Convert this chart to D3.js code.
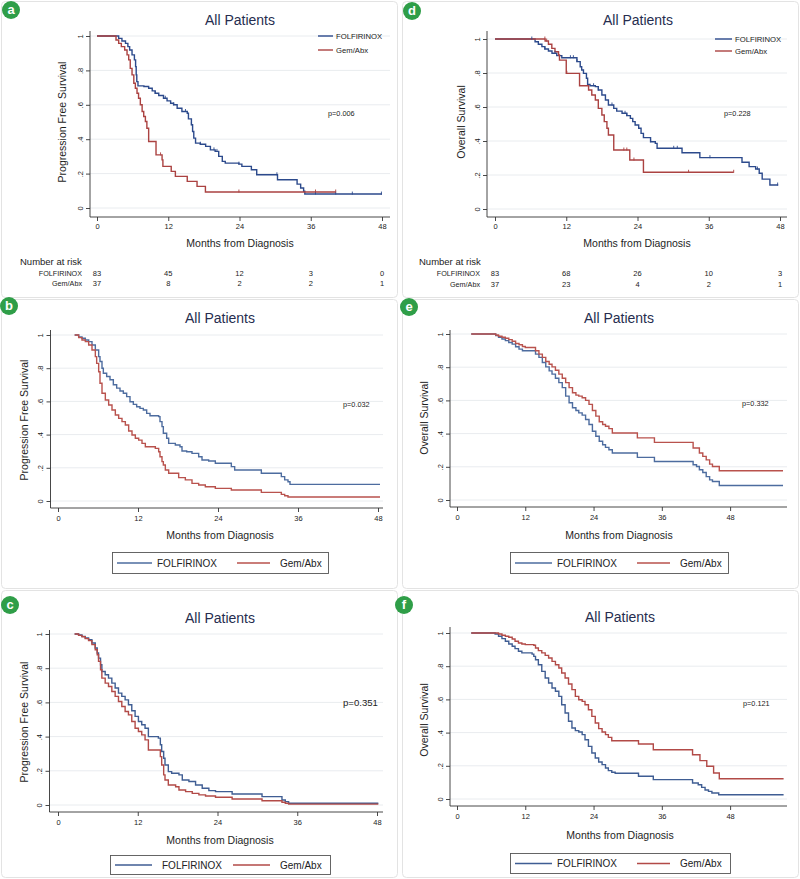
<!DOCTYPE html>
<html><head><meta charset="utf-8">
<script src="https://cdn.jsdelivr.net/npm/d3@7"></script>
<style>body{margin:0;background:#fff}svg text{font-family:"Liberation Sans",Arial,sans-serif}</style>
</head><body>
<svg id="c" width="800" height="879"></svg>
<script>
// ---------- DATA ----------
const seriesNames = ["FOLFIRINOX", "Gem/Abx"];
const xTicks = [0, 12, 24, 36, 48];
const yTicks = [0, 0.2, 0.4, 0.6, 0.8, 1];
const yTickLabels = ["0", ".2", ".4", ".6", ".8", "1"];
const riskTimes = [0, 12, 24, 36, 48];

// panel a: PFS (Kaplan-Meier step points [month, survival])
const aFolf = [[0,1],[3.0,1],[3.65,0.986],[4.2,0.971],[4.8,0.957],[5.2,0.938],[5.5,0.919],[5.9,0.89],[6.3,0.861],[6.5,0.822],[6.6,0.774],[6.7,0.735],[6.9,0.71],[7.9,0.706],[8.7,0.696],[9.3,0.681],[9.8,0.667],[10.4,0.654],[11.2,0.638],[11.8,0.623],[12.4,0.609],[12.9,0.6],[13.5,0.58],[14.3,0.561],[15.2,0.551],[15.4,0.518],[15.9,0.484],[16.1,0.445],[16.3,0.406],[16.6,0.377],[17.4,0.371],[18.3,0.358],[19.1,0.338],[19.9,0.329],[20.5,0.3],[21.1,0.271],[21.6,0.261],[23.9,0.255],[24.4,0.242],[26.0,0.222],[26.9,0.193],[30.4,0.164],[33.7,0.139],[34.3,0.116],[34.8,0.097],[35.0,0.081],[48,0.081]];
const aGem = [[0,1],[3.0,1],[3.2,0.977],[3.65,0.957],[4.1,0.938],[4.66,0.919],[5.06,0.89],[5.34,0.861],[5.6,0.812],[5.9,0.774],[6.2,0.725],[6.46,0.696],[6.74,0.667],[7.0,0.638],[7.3,0.6],[7.6,0.561],[7.87,0.532],[8.15,0.503],[8.4,0.464],[8.7,0.387],[9.94,0.309],[10.96,0.28],[11.1,0.242],[12.5,0.213],[13.2,0.184],[15.2,0.155],[16.85,0.126],[18.26,0.093],[40.2,0.093]];
const aFolfCens = [9.8,11.5,12.9,14.9,15.9,17.4,19.7,20.2,23.9,30.3,36.8,40.2,43,47.9];
const aGemCens = [10.7,23.9,36.8,40.2];
const aRiskFolf = [83, 45, 12, 3, 0];
const aRiskGem = [37, 8, 2, 2, 1];

// panel d: OS
const dFolf = [[0,1],[6.47,1],[6.75,0.984],[7.3,0.969],[7.9,0.955],[8.4,0.941],[9.0,0.929],[9.6,0.916],[10.4,0.902],[11.25,0.89],[13.8,0.867],[14.35,0.837],[14.6,0.818],[14.9,0.798],[15.4,0.769],[15.6,0.733],[16.0,0.725],[16.9,0.72],[17.4,0.7],[18.0,0.671],[18.6,0.641],[19.1,0.612],[20.0,0.592],[20.5,0.576],[21.4,0.563],[22.2,0.549],[22.8,0.533],[23.2,0.514],[23.6,0.494],[24.2,0.475],[24.6,0.445],[25.0,0.42],[26.2,0.396],[27.0,0.386],[27.3,0.357],[31.5,0.331],[34.5,0.302],[41.6,0.275],[42.8,0.249],[43.9,0.235],[44.5,0.21],[45.0,0.176],[46.3,0.141],[47.7,0.141]];
const dGem = [[0,1],[8.16,1],[8.44,0.988],[9.0,0.969],[9.57,0.945],[10.1,0.925],[10.7,0.906],[10.86,0.876],[12.0,0.798],[14.24,0.725],[15.76,0.7],[16.3,0.671],[16.9,0.641],[17.4,0.592],[18.0,0.553],[18.4,0.514],[18.85,0.475],[19.1,0.435],[20.0,0.347],[22.7,0.288],[25.0,0.216],[40.2,0.216]];
const dFolfCens = [6.2,8.4,10.1,12.7,13.2,13.8,16.6,17.4,19.7,21.9,22.2,26.2,30.1,30.7,36.2,44.2,47.6];
const dGemCens = [8.4,8.7,12.1,21.7,22.2,23.4,32.6,40.2];
const dRiskFolf = [83, 68, 26, 10, 3];
const dRiskGem = [37, 23, 4, 2, 1];

// panel b: PFS
const bFolf = [[2.5,1],[3.1,0.988],[3.6,0.98],[4.1,0.97],[4.6,0.96],[5.1,0.94],[5.6,0.91],[6.1,0.87],[6.3,0.84],[6.6,0.8],[6.8,0.77],[7.3,0.75],[7.8,0.73],[8.3,0.7],[8.8,0.68],[9.3,0.663],[9.8,0.649],[10.3,0.629],[10.8,0.598],[11.3,0.582],[11.8,0.568],[12.3,0.558],[12.8,0.548],[13.3,0.528],[13.8,0.514],[15.1,0.508],[15.3,0.478],[15.6,0.448],[15.8,0.408],[16.3,0.378],[16.6,0.347],[17.6,0.337],[18.3,0.327],[18.6,0.301],[19.3,0.297],[20.1,0.287],[21.1,0.267],[21.6,0.247],[22.6,0.241],[23.6,0.227],[26.0,0.207],[26.5,0.187],[30.5,0.167],[33.5,0.147],[34.0,0.127],[34.5,0.116],[34.8,0.1],[48.3,0.1]];
const bGem = [[2.5,1],[3.1,0.984],[3.6,0.97],[4.1,0.96],[4.6,0.94],[5.1,0.91],[5.6,0.87],[5.8,0.829],[6.1,0.779],[6.3,0.709],[6.6,0.649],[7.1,0.608],[7.6,0.578],[8.1,0.548],[8.6,0.518],[9.1,0.498],[9.6,0.478],[10.1,0.458],[10.6,0.422],[11.1,0.398],[11.6,0.378],[12.1,0.367],[12.6,0.347],[13.1,0.327],[14.6,0.317],[15.1,0.297],[15.3,0.267],[15.6,0.237],[15.8,0.217],[16.1,0.187],[16.6,0.167],[18.1,0.141],[19.1,0.127],[20.1,0.106],[21.1,0.096],[22.1,0.086],[23.6,0.076],[26.0,0.066],[30.5,0.052],[33.5,0.04],[34.0,0.032],[34.5,0.024],[48.3,0.024]];

// panel e: OS
const eFolf = [[2.5,1],[6.2,1],[6.8,0.99],[7.3,0.98],[7.9,0.97],[8.5,0.96],[9.1,0.949],[9.7,0.939],[10.3,0.923],[10.9,0.909],[11.5,0.899],[13.8,0.879],[14.4,0.859],[15.0,0.828],[15.6,0.802],[16.2,0.778],[16.7,0.758],[17.3,0.733],[17.9,0.707],[18.5,0.677],[19.1,0.626],[19.7,0.586],[20.3,0.556],[20.9,0.539],[21.4,0.525],[22.0,0.511],[22.6,0.485],[23.2,0.455],[23.8,0.414],[24.4,0.384],[25.0,0.354],[25.6,0.333],[26.1,0.317],[26.7,0.303],[27.3,0.283],[31.7,0.257],[34.7,0.232],[41.5,0.212],[42.1,0.202],[42.6,0.182],[43.2,0.166],[43.8,0.141],[44.4,0.121],[44.9,0.111],[46.1,0.087],[57.3,0.087]];
const eGem = [[2.5,1],[6.2,1],[6.8,0.994],[7.3,0.986],[7.9,0.98],[8.5,0.974],[9.1,0.966],[9.7,0.956],[10.3,0.943],[10.9,0.935],[11.5,0.925],[12.0,0.919],[13.8,0.899],[14.4,0.879],[15.0,0.859],[15.6,0.834],[16.2,0.818],[16.7,0.802],[17.3,0.782],[17.9,0.758],[18.5,0.733],[19.1,0.707],[19.7,0.677],[20.3,0.646],[20.9,0.632],[21.4,0.626],[22.0,0.616],[22.6,0.6],[23.2,0.576],[23.8,0.539],[24.4,0.505],[25.0,0.471],[25.6,0.455],[26.1,0.444],[26.7,0.43],[27.3,0.404],[31.7,0.374],[34.7,0.347],[41.5,0.313],[42.6,0.283],[43.2,0.263],[43.8,0.242],[44.4,0.216],[44.9,0.202],[46.1,0.176],[57.3,0.176]];

// panel c: PFS
const cFolf = [[2.5,1],[3.1,0.994],[3.6,0.986],[4.1,0.977],[4.6,0.967],[5.1,0.947],[5.6,0.918],[5.9,0.889],[6.1,0.859],[6.4,0.82],[6.6,0.781],[7.1,0.762],[7.6,0.742],[8.1,0.713],[8.6,0.684],[9.1,0.654],[9.6,0.635],[10.1,0.615],[10.6,0.586],[11.1,0.551],[11.6,0.518],[12.1,0.488],[12.6,0.469],[13.1,0.449],[13.6,0.4],[15.1,0.391],[15.4,0.352],[15.6,0.313],[15.9,0.273],[16.1,0.234],[16.6,0.195],[17.1,0.186],[18.2,0.176],[18.7,0.146],[19.7,0.137],[20.7,0.117],[21.7,0.098],[22.7,0.084],[23.7,0.078],[26.2,0.064],[30.7,0.049],[33.7,0.029],[34.2,0.02],[34.7,0.01],[48.2,0.01]];
const cGem = [[2.5,1],[3.1,0.992],[3.6,0.984],[4.1,0.973],[4.6,0.961],[5.1,0.938],[5.6,0.908],[5.9,0.879],[6.1,0.84],[6.4,0.791],[6.6,0.742],[7.1,0.713],[7.6,0.693],[8.1,0.664],[8.6,0.635],[9.1,0.605],[9.6,0.576],[10.1,0.547],[10.6,0.527],[11.1,0.488],[11.6,0.449],[12.1,0.43],[12.6,0.41],[13.1,0.381],[13.6,0.322],[15.4,0.283],[15.6,0.234],[15.9,0.176],[16.1,0.146],[16.6,0.117],[17.7,0.107],[18.2,0.088],[19.2,0.078],[20.2,0.068],[21.2,0.059],[22.2,0.053],[23.7,0.045],[26.2,0.035],[30.7,0.025],[33.7,0.016],[34.2,0.01],[34.7,0.005],[48.2,0.005]];

// panel f: OS
const fFolf = [[2.5,1],[6.1,1],[6.7,0.994],[7.3,0.98],[7.9,0.966],[8.5,0.95],[9.1,0.934],[9.7,0.92],[10.2,0.906],[10.8,0.89],[11.4,0.88],[13.2,0.873],[13.5,0.859],[13.8,0.839],[14.3,0.809],[14.9,0.769],[15.5,0.729],[16.1,0.699],[16.7,0.669],[17.3,0.649],[17.9,0.618],[18.4,0.568],[19.0,0.518],[19.6,0.468],[20.2,0.428],[20.8,0.412],[21.4,0.404],[22.0,0.388],[22.5,0.357],[23.1,0.317],[23.7,0.277],[24.3,0.247],[24.9,0.223],[25.5,0.207],[26.1,0.187],[26.6,0.171],[27.2,0.161],[27.8,0.155],[31.9,0.137],[34.5,0.117],[41.4,0.096],[42.4,0.086],[43.0,0.07],[43.6,0.054],[44.2,0.046],[44.8,0.036],[46.0,0.026],[57.4,0.026]];
const fGem = [[2.5,1],[6.7,1],[7.3,0.994],[7.9,0.986],[8.5,0.98],[9.1,0.974],[9.7,0.964],[10.2,0.95],[10.8,0.94],[11.4,0.934],[12.0,0.93],[13.5,0.926],[13.8,0.91],[14.3,0.894],[14.9,0.88],[15.5,0.865],[16.1,0.849],[16.7,0.829],[17.3,0.809],[17.9,0.789],[18.4,0.759],[19.0,0.729],[19.6,0.693],[20.2,0.659],[20.8,0.618],[21.4,0.598],[22.0,0.588],[22.5,0.568],[23.1,0.538],[23.7,0.498],[24.3,0.458],[24.9,0.424],[25.5,0.404],[26.1,0.388],[26.6,0.371],[27.2,0.351],[31.9,0.331],[34.5,0.297],[41.4,0.267],[42.7,0.231],[43.9,0.197],[45.1,0.157],[46.1,0.122],[57.4,0.122]];

// ---------- LAYOUT ----------
const panels = [
  {id:"a", frame:[1,1,396,296], badge:[11,10], titleXY:[240,25], dom:[0,48], xr:[97,382], yr:[208,36], axX:90, axY:217, right:390, top:31,
   xTitleXY:[240,247], yTitle:"Progression Free Survival", yTitleXY:[62,122], yLabOff:10, xLabY:229,
   pv:{x:328,y:116,text:"p=0.006",size:7.3}, data:[aFolf,aGem], cens:[aFolfCens,aGemCens], colors:["#2c4a8c","#ab4241"],
   legend:{type:"inline", x1:318, x2:333, ys:[36,50], tx:336},
   risk:{titleX:20, titleY:265, labX:82, ys:[276,286], vals:[aRiskFolf,aRiskGem]}},
  {id:"d", frame:[402,1,396,296], badge:[412,11], titleXY:[638,25], dom:[0,48], xr:[495,780], yr:[209,39], axX:487, axY:217, right:787, top:31,
   xTitleXY:[637,247], yTitle:"Overall Survival", yTitleXY:[461,122], yLabOff:10, xLabY:229,
   pv:{x:724,y:116,text:"p=0.228",size:7.3}, data:[dFolf,dGem], cens:[dFolfCens,dGemCens], colors:["#2c4a8c","#ab4241"],
   legend:{type:"inline", x1:715, x2:732, ys:[39,51], tx:735},
   risk:{titleX:419, titleY:265, labX:480, ys:[276,287], vals:[dRiskFolf,dRiskGem]}},
  {id:"b", frame:[1,299,396,289], badge:[9,306], titleXY:[220,323], dom:[0,48], xr:[58,378], yr:[501,335], axX:50.5, axY:508, right:383, top:330,
   xTitleXY:[220,539], yTitle:"Progression Free Survival", yTitleXY:[24,420], yLabOff:10, xLabY:521,
   pv:{x:343,y:407,text:"p=0.032",size:7.3}, data:[bFolf,bGem], colors:["#4d6c9f","#b9524d"],
   legend:{type:"box", box:[112,552,216,21], lines:[[117,152],[237,270]], tx:[157,280]}},
  {id:"e", frame:[402,299,396,289], badge:[409,307], titleXY:[619,323], dom:[0,58], xr:[457,787], yr:[500,334], axX:450, axY:507, right:787, top:330,
   xTitleXY:[619,539], yTitle:"Overall Survival", yTitleXY:[424,418], yLabOff:10, xLabY:520,
   pv:{x:742,y:406,text:"p=0.332",size:7.3}, data:[eFolf,eGem], colors:["#4d6c9f","#b9524d"],
   legend:{type:"box", box:[510,552,218,21], lines:[[515,552],[637,670]], tx:[557,680]}},
  {id:"c", frame:[1,590,396,287], badge:[10,605], titleXY:[220,623], dom:[0,48], xr:[58,377], yr:[805,634], axX:49.5, axY:812, right:383, top:630,
   xTitleXY:[220,844], yTitle:"Progression Free Survival", yTitleXY:[24,722], yLabOff:10, xLabY:825,
   pv:{x:343,y:706,text:"p=0.351",size:9.6}, data:[cFolf,cGem], colors:["#3f5d93","#b24a47"],
   legend:{type:"box", box:[110,855,220,19], lines:[[115,152],[233,270]], tx:[162,280]}},
  {id:"f", frame:[402,590,396,287], badge:[404,605], titleXY:[620,622], dom:[0,58], xr:[457,787], yr:[799,633], axX:450, axY:806, right:787, top:627,
   xTitleXY:[620,839], yTitle:"Overall Survival", yTitleXY:[424,720], yLabOff:10, xLabY:819,
   pv:{x:743,y:706,text:"p=0.121",size:7.3}, data:[fFolf,fGem], colors:["#3f5d93","#b24a47"],
   legend:{type:"box", box:[510,853,220,20], lines:[[515,552],[637,670]], tx:[557,680]}}
];

const svg = d3.select("#c");
const axisColor = "#333";

function survAt(series, t){
  let s = series[0][1];
  for (const p of series){ if (p[0] <= t) s = p[1]; else break; }
  return s;
}

panels.forEach(P => {
  const g = svg.append("g");
  // frame
  g.append("rect").attr("x",P.frame[0]+0.5).attr("y",P.frame[1]+0.5).attr("width",P.frame[2]).attr("height",P.frame[3])
    .attr("rx",4).attr("fill","none").attr("stroke","#e3e3e3").attr("stroke-width",1);

  const x = d3.scaleLinear().domain(P.dom).range(P.xr);
  const y = d3.scaleLinear().domain([0,1]).range(P.yr);

  // gridlines
  g.selectAll(".grid").data(yTicks).join("line")
    .attr("x1",P.axX).attr("x2",P.right).attr("y1",d=>y(d)).attr("y2",d=>y(d))
    .attr("stroke","#e9ecef").attr("stroke-width",1);

  // axis lines
  g.append("line").attr("x1",P.axX).attr("x2",P.axX).attr("y1",P.top).attr("y2",P.axY).attr("stroke",axisColor).attr("stroke-width",0.9);
  g.append("line").attr("x1",P.axX).attr("x2",P.right).attr("y1",P.axY).attr("y2",P.axY).attr("stroke",axisColor).attr("stroke-width",0.9);

  // y axis
  const ya = g.append("g").attr("transform",`translate(${P.axX},0)`)
    .call(d3.axisLeft(y).tickValues(yTicks).tickSize(4).tickFormat((d,i)=>yTickLabels[i]));
  ya.select(".domain").remove();
  ya.selectAll(".tick line").attr("stroke",axisColor).attr("stroke-width",0.9);
  ya.selectAll(".tick text").attr("x",0).attr("dy","0.35em").attr("text-anchor","middle")
    .attr("transform",`translate(${-P.yLabOff},0) rotate(-90)`)
    .attr("font-size",7.5).attr("fill","#222").attr("font-family","Liberation Sans, Arial, sans-serif");

  // x axis
  const xa = g.append("g").attr("transform",`translate(0,${P.axY})`)
    .call(d3.axisBottom(x).tickValues(xTicks).tickSize(4).tickFormat(d3.format("d")));
  xa.select(".domain").remove();
  xa.selectAll(".tick line").attr("stroke",axisColor).attr("stroke-width",0.9);
  xa.selectAll(".tick text").attr("y",P.xLabY-P.axY).attr("dy",0).attr("font-size",7.5).attr("fill","#222")
    .attr("font-family","Liberation Sans, Arial, sans-serif");

  // curves
  const line = d3.line().x(d=>x(d[0])).y(d=>y(d[1])).curve(d3.curveStepAfter);
  P.data.forEach((s,i) => {
    g.append("path").datum(s).attr("d",line).attr("fill","none").attr("stroke",P.colors[i]).attr("stroke-width",1.4);
  });
  if (P.cens){
    P.cens.forEach((cs,i) => {
      g.selectAll(null).data(cs).join("line")
        .attr("x1",d=>x(d)).attr("x2",d=>x(d))
        .attr("y1",d=>y(survAt(P.data[i],d))-2.5).attr("y2",d=>y(survAt(P.data[i],d))+0.5)
        .attr("stroke",P.colors[i]).attr("stroke-width",0.9);
    });
  }

  // titles
  g.append("text").attr("x",P.titleXY[0]).attr("y",P.titleXY[1]).attr("text-anchor","middle")
    .attr("font-size",14).attr("fill","#262d4f").text("All Patients");
  g.append("text").attr("x",P.xTitleXY[0]).attr("y",P.xTitleXY[1]).attr("text-anchor","middle")
    .attr("font-size",10.5).attr("fill","#1e1e1e").text("Months from Diagnosis");
  g.append("text").attr("transform",`translate(${P.yTitleXY[0]},${P.yTitleXY[1]}) rotate(-90)`)
    .attr("text-anchor","middle").attr("dy","0.35em").attr("font-size",10.5).attr("fill","#1e1e1e").text(P.yTitle);

  // p-value
  g.append("text").attr("x",P.pv.x).attr("y",P.pv.y).attr("font-size",P.pv.size).attr("fill","#222").text(P.pv.text);

  // legend
  if (P.legend.type === "inline"){
    P.legend.ys.forEach((yy,i) => {
      g.append("line").attr("x1",P.legend.x1).attr("x2",P.legend.x2).attr("y1",yy).attr("y2",yy)
        .attr("stroke",P.colors[i]).attr("stroke-width",1.4);
      g.append("text").attr("x",P.legend.tx).attr("y",yy).attr("dy","0.35em").attr("font-size",7.7)
        .attr("fill","#222").text(seriesNames[i]);
    });
  } else {
    const b = P.legend.box;
    g.append("rect").attr("x",b[0]+0.5).attr("y",b[1]+0.5).attr("width",b[2]).attr("height",b[3])
      .attr("fill","#fff").attr("stroke","#555").attr("stroke-width",0.9);
    const cy = b[1] + b[3]/2 + 0.5;
    P.legend.lines.forEach((ln,i) => {
      g.append("line").attr("x1",ln[0]).attr("x2",ln[1]).attr("y1",cy).attr("y2",cy)
        .attr("stroke",P.colors[i]).attr("stroke-width",1.3);
      g.append("text").attr("x",P.legend.tx[i]).attr("y",cy).attr("dy","0.35em").attr("font-size",10)
        .attr("fill","#222").text(seriesNames[i]);
    });
  }

  // number at risk
  if (P.risk){
    const R = P.risk;
    g.append("text").attr("x",R.titleX).attr("y",R.titleY).attr("font-size",9.5).attr("fill","#222").text("Number at risk");
    R.vals.forEach((vals,i) => {
      g.append("text").attr("x",R.labX).attr("y",R.ys[i]).attr("text-anchor","end").attr("font-size",7.2)
        .attr("fill","#222").text(seriesNames[i]);
      g.selectAll(null).data(vals).join("text")
        .attr("x",(d,j)=>x(riskTimes[j])).attr("y",R.ys[i]).attr("text-anchor","middle")
        .attr("font-size",7.5).attr("fill","#222").text(d=>d);
    });
  }

  // badge
  g.append("circle").attr("cx",P.badge[0]).attr("cy",P.badge[1]).attr("r",9).attr("fill","#2f9e48");
  g.append("text").attr("x",P.badge[0]).attr("y",P.badge[1]).attr("dy","0.33em").attr("text-anchor","middle")
    .attr("font-family","DejaVu Serif, Liberation Serif, serif").attr("font-weight","bold")
    .attr("font-size",13).attr("fill","#fff").text(P.id);
});
</script>
</body></html>
